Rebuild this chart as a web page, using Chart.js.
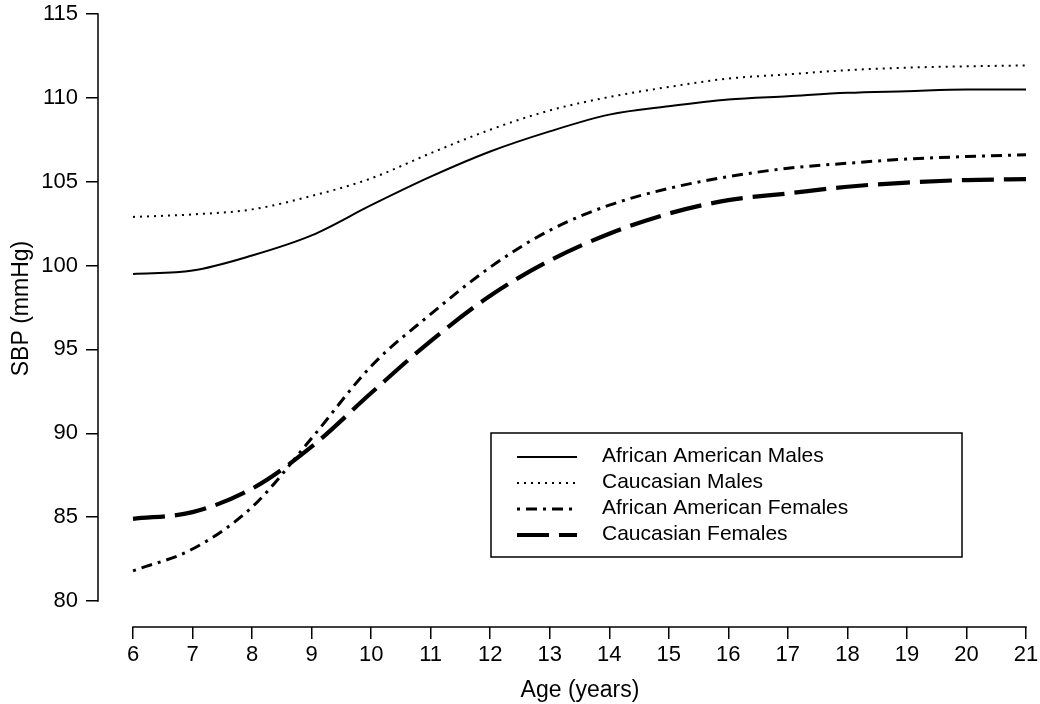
<!DOCTYPE html>
<html>
<head>
<meta charset="utf-8">
<script src="https://cdn.jsdelivr.net/npm/chart.js@4/dist/chart.umd.min.js"></script>
<style>
  html, body { margin: 0; padding: 0; background: #fff; overflow: hidden; width: 1040px; height: 704px; }
  #wrap { position: absolute; left: 0; top: -10px; width: 1062px; height: 714px; }
</style>
</head>
<body>
<div id="wrap"><canvas id="c" width="1062" height="714"></canvas></div>
<script>
// ---- data ----
const ages = [6, 7, 8, 9, 10, 11, 12, 13, 14, 15, 16, 17, 18, 19, 20, 21];
const africanAmericanMales   = [99.5, 99.7, 100.6, 101.8, 103.6, 105.3, 106.8, 108.0, 109.0, 109.5, 109.9, 110.1, 110.3, 110.4, 110.5, 110.5];
const caucasianMales         = [102.9, 103.05, 103.35, 104.15, 105.2, 106.7, 108.1, 109.25, 110.05, 110.65, 111.15, 111.4, 111.65, 111.8, 111.88, 111.93];
const africanAmericanFemales = [81.8, 83.1, 85.6, 89.7, 94.0, 97.1, 99.9, 102.1, 103.6, 104.6, 105.3, 105.8, 106.1, 106.35, 106.5, 106.6];
const caucasianFemales       = [84.9, 85.3, 86.7, 89.2, 92.4, 95.5, 98.2, 100.3, 101.9, 103.1, 103.9, 104.3, 104.7, 104.95, 105.1, 105.15];
const seriesLabels = ['African American Males', 'Caucasian Males', 'African American Females', 'Caucasian Females'];
const xTickValues = [6, 7, 8, 9, 10, 11, 12, 13, 14, 15, 16, 17, 18, 19, 20, 21];
const yTickValues = [80, 85, 90, 95, 100, 105, 110, 115];

const FONT = '"Liberation Sans", Arial, Helvetica, sans-serif';
const toPts = arr => ages.map((a, i) => ({ x: a, y: arr[i] }));

const styles = [
  { borderWidth: 2,   borderDash: [] },
  { borderWidth: 2,   borderDash: [2, 5] },
  { borderWidth: 3,   borderDash: [3, 6, 11, 6] },
  { borderWidth: 4.2, borderDash: [32, 10] }
];
const seriesData = [africanAmericanMales, caucasianMales, africanAmericanFemales, caucasianFemales];

const datasets = seriesData.map((arr, i) => ({
  label: seriesLabels[i],
  data: toPts(arr),
  borderColor: '#000',
  backgroundColor: '#000',
  borderWidth: styles[i].borderWidth,
  borderDash: styles[i].borderDash,
  borderCapStyle: 'butt',
  pointRadius: 0,
  pointHoverRadius: 0,
  fill: false,
  cubicInterpolationMode: 'monotone'
}));

// detached axis lines spanning only the tick range (R style)
const axisLinesPlugin = {
  id: 'axisLines',
  afterDraw(chart) {
    const { ctx, chartArea, scales } = chart;
    const xs = scales.x, ys = scales.y;
    ctx.save();
    ctx.strokeStyle = '#000';
    ctx.lineWidth = 1.5;
    ctx.lineCap = 'square';
    ctx.beginPath();
    const yx = chartArea.left;
    ctx.moveTo(yx, ys.getPixelForValue(yTickValues[0]));
    ctx.lineTo(yx, ys.getPixelForValue(yTickValues[yTickValues.length - 1]));
    const xy = chartArea.bottom;
    ctx.moveTo(xs.getPixelForValue(xTickValues[0]), xy);
    ctx.lineTo(xs.getPixelForValue(xTickValues[xTickValues.length - 1]), xy);
    ctx.stroke();
    ctx.restore();
  }
};

// boxed legend with line samples, placed inside the plot
const boxLegendPlugin = {
  id: 'boxLegend',
  afterDraw(chart, args, opts) {
    const { ctx } = chart;
    ctx.save();
    ctx.strokeStyle = '#000';
    ctx.lineWidth = 1.5;
    ctx.strokeRect(opts.left, opts.top, opts.width, opts.height);
    ctx.font = '21px ' + FONT;
    ctx.fillStyle = '#000';
    ctx.textBaseline = 'middle';
    ctx.textAlign = 'left';
    chart.data.datasets.forEach((ds, i) => {
      const cy = opts.firstRow + i * opts.rowGap;
      ctx.beginPath();
      ctx.setLineDash(ds.borderDash || []);
      ctx.lineWidth = ds.borderWidth;
      ctx.lineCap = 'butt';
      ctx.moveTo(opts.sampleX1, cy + 1);
      ctx.lineTo(opts.sampleX2, cy + 1);
      ctx.stroke();
      ctx.setLineDash([]);
      ctx.fillText(ds.label, opts.textX, cy);
    });
    ctx.restore();
  }
};

const zeroPad = s => { s.paddingTop = 0; s.paddingBottom = 0; s.paddingLeft = 0; s.paddingRight = 0; };

new Chart(document.getElementById('c'), {
  type: 'line',
  data: { datasets },
  options: {
    responsive: false,
    animation: false,
    events: [],
    layout: { padding: 0 },
    plugins: {
      legend: { display: false },
      tooltip: { enabled: false },
      boxLegend: { left: 491, top: 443, width: 471, height: 124, firstRow: 466, rowGap: 26, sampleX1: 517, sampleX2: 577, textX: 602 }
    },
    scales: {
      x: {
        type: 'linear',
        position: 'bottom',
        min: 5.412,
        max: 21.605,
        bounds: 'data',
        afterBuildTicks: s => { s.ticks = xTickValues.map(v => ({ value: v })); },
        afterFit: s => { s.height = 77; zeroPad(s); },
        grid: { display: true, drawOnChartArea: false, drawTicks: true, tickLength: 12, color: '#000', lineWidth: 1.5 },
        border: { display: false },
        ticks: {
          autoSkip: false, maxRotation: 0, minRotation: 0,
          color: '#000', padding: 3,
          font: { family: FONT, size: 22 },
          callback: v => String(v)
        },
        title: {
          display: true, text: 'Age (years)', color: '#000',
          font: { family: FONT, size: 23 },
          padding: { top: 0, bottom: 0 }
        }
      },
      y: {
        type: 'linear',
        position: 'left',
        min: 78.45,
        max: 116.43,
        bounds: 'data',
        afterBuildTicks: s => { s.ticks = yTickValues.map(v => ({ value: v })); },
        afterFit: s => { s.width = 98; zeroPad(s); },
        grid: { display: true, drawOnChartArea: false, drawTicks: true, tickLength: 12, color: '#000', lineWidth: 1.5 },
        border: { display: false },
        ticks: {
          autoSkip: false,
          color: '#000', padding: 8,
          font: { family: FONT, size: 22 },
          callback: v => String(v)
        },
        title: {
          display: true, text: 'SBP (mmHg)', color: '#000',
          font: { family: FONT, size: 23 },
          padding: { top: 8, bottom: 0 }
        }
      }
    }
  },
  plugins: [axisLinesPlugin, boxLegendPlugin]
});
</script>
</body>
</html>
